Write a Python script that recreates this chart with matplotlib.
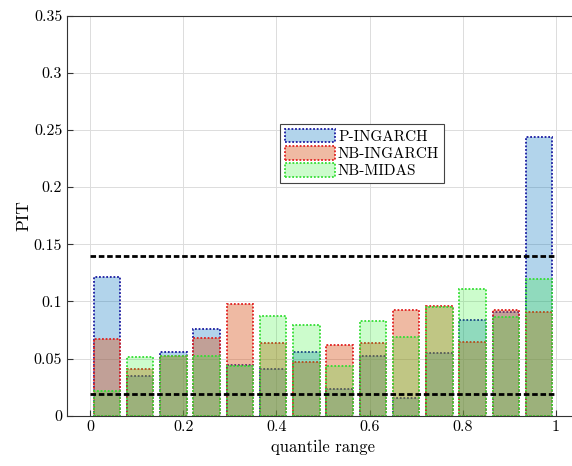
import numpy as np
import matplotlib
matplotlib.use("Agg")
import matplotlib.pyplot as plt

plt.rcParams['font.family'] = 'cmr10'
plt.rcParams['axes.formatter.use_mathtext'] = True
plt.rcParams['mathtext.fontset'] = 'cm'

# PIT histogram values, 14 bins on [0, 1]
p_ingarch = [0.1216, 0.035, 0.056, 0.0759, 0.044, 0.0406, 0.056,
             0.023, 0.052, 0.0152, 0.0546, 0.0837, 0.091, 0.244]
nb_ingarch = [0.0668, 0.0406, 0.052, 0.0683, 0.0977, 0.0633, 0.0473,
              0.0619, 0.0639, 0.0925, 0.096, 0.0648, 0.0925, 0.0907]
nb_midas = [0.0219, 0.0514, 0.0522, 0.0522, 0.0438, 0.087, 0.0797,
            0.0438, 0.0832, 0.0686, 0.095, 0.1109, 0.086, 0.1193]
labels = ['P-INGARCH', 'NB-INGARCH', 'NB-MIDAS']
upper_band = 0.14
lower_band = 0.019

nbins = len(p_ingarch)
centers = (np.arange(nbins) + 0.5) / nbins
width = 0.8 / nbins

fig = plt.figure(figsize=(5.72, 4.66), dpi=100)
ax = fig.add_axes([67/572, 50.3/466, 512/572, 400/466])

ax.grid(True, color='#dcdcdc', linewidth=0.7)
ax.set_axisbelow(True)

ax.bar(centers, p_ingarch, width, facecolor=(0, 0.447, 0.741, 0.3),
       edgecolor='#1a1aa0', linestyle=(0, (1, 1)), linewidth=1.3, label=labels[0])
ax.bar(centers, nb_ingarch, width, facecolor=(0.85, 0.325, 0.098, 0.4),
       edgecolor='#e02020', linestyle=(0, (1, 1)), linewidth=1.3, label=labels[1])
ax.bar(centers, nb_midas, width, facecolor=(0.1, 0.95, 0.1, 0.22),
       edgecolor='#33dd33', linestyle=(0, (1, 1)), linewidth=1.3, label=labels[2])

ax.plot([0, 1], [upper_band, upper_band], color='black', linewidth=2, dashes=(2, 1))
ax.plot([0, 1], [lower_band, lower_band], color='black', linewidth=2, dashes=(2, 1))

ax.set_xlim(-0.05, 1.05)
ax.set_ylim(0, 0.35)
ax.set_xticks(np.linspace(0, 1, 6))
ax.set_xticklabels(['0', '0.2', '0.4', '0.6', '0.8', '1'])
ax.set_yticks(np.arange(0, 0.351, 0.05))
ax.set_yticklabels(['0', '0.05', '0.1', '0.15', '0.2', '0.25', '0.3', '0.35'])
ax.tick_params(direction='in', labelsize=11.5, length=4, color='#333333')
for s in ax.spines.values():
    s.set_color('#333333')
    s.set_linewidth(0.8)
ax.spines['right'].set_visible(False)

ax.set_xlabel('quantile range', fontsize=12)
ax.set_ylabel('PIT', fontsize=12.5, labelpad=2)

leg = ax.legend(loc='upper left', bbox_to_anchor=(280/572, 342/466),
                bbox_transform=fig.transFigure, borderaxespad=0,
                fancybox=False, framealpha=1, edgecolor='#444444',
                fontsize=11, handlelength=3.3, handleheight=1.0,
                labelspacing=0.15, borderpad=0.3, handletextpad=0.2)
leg.get_frame().set_linewidth(0.8)

fig.savefig('out.png', dpi=100)
